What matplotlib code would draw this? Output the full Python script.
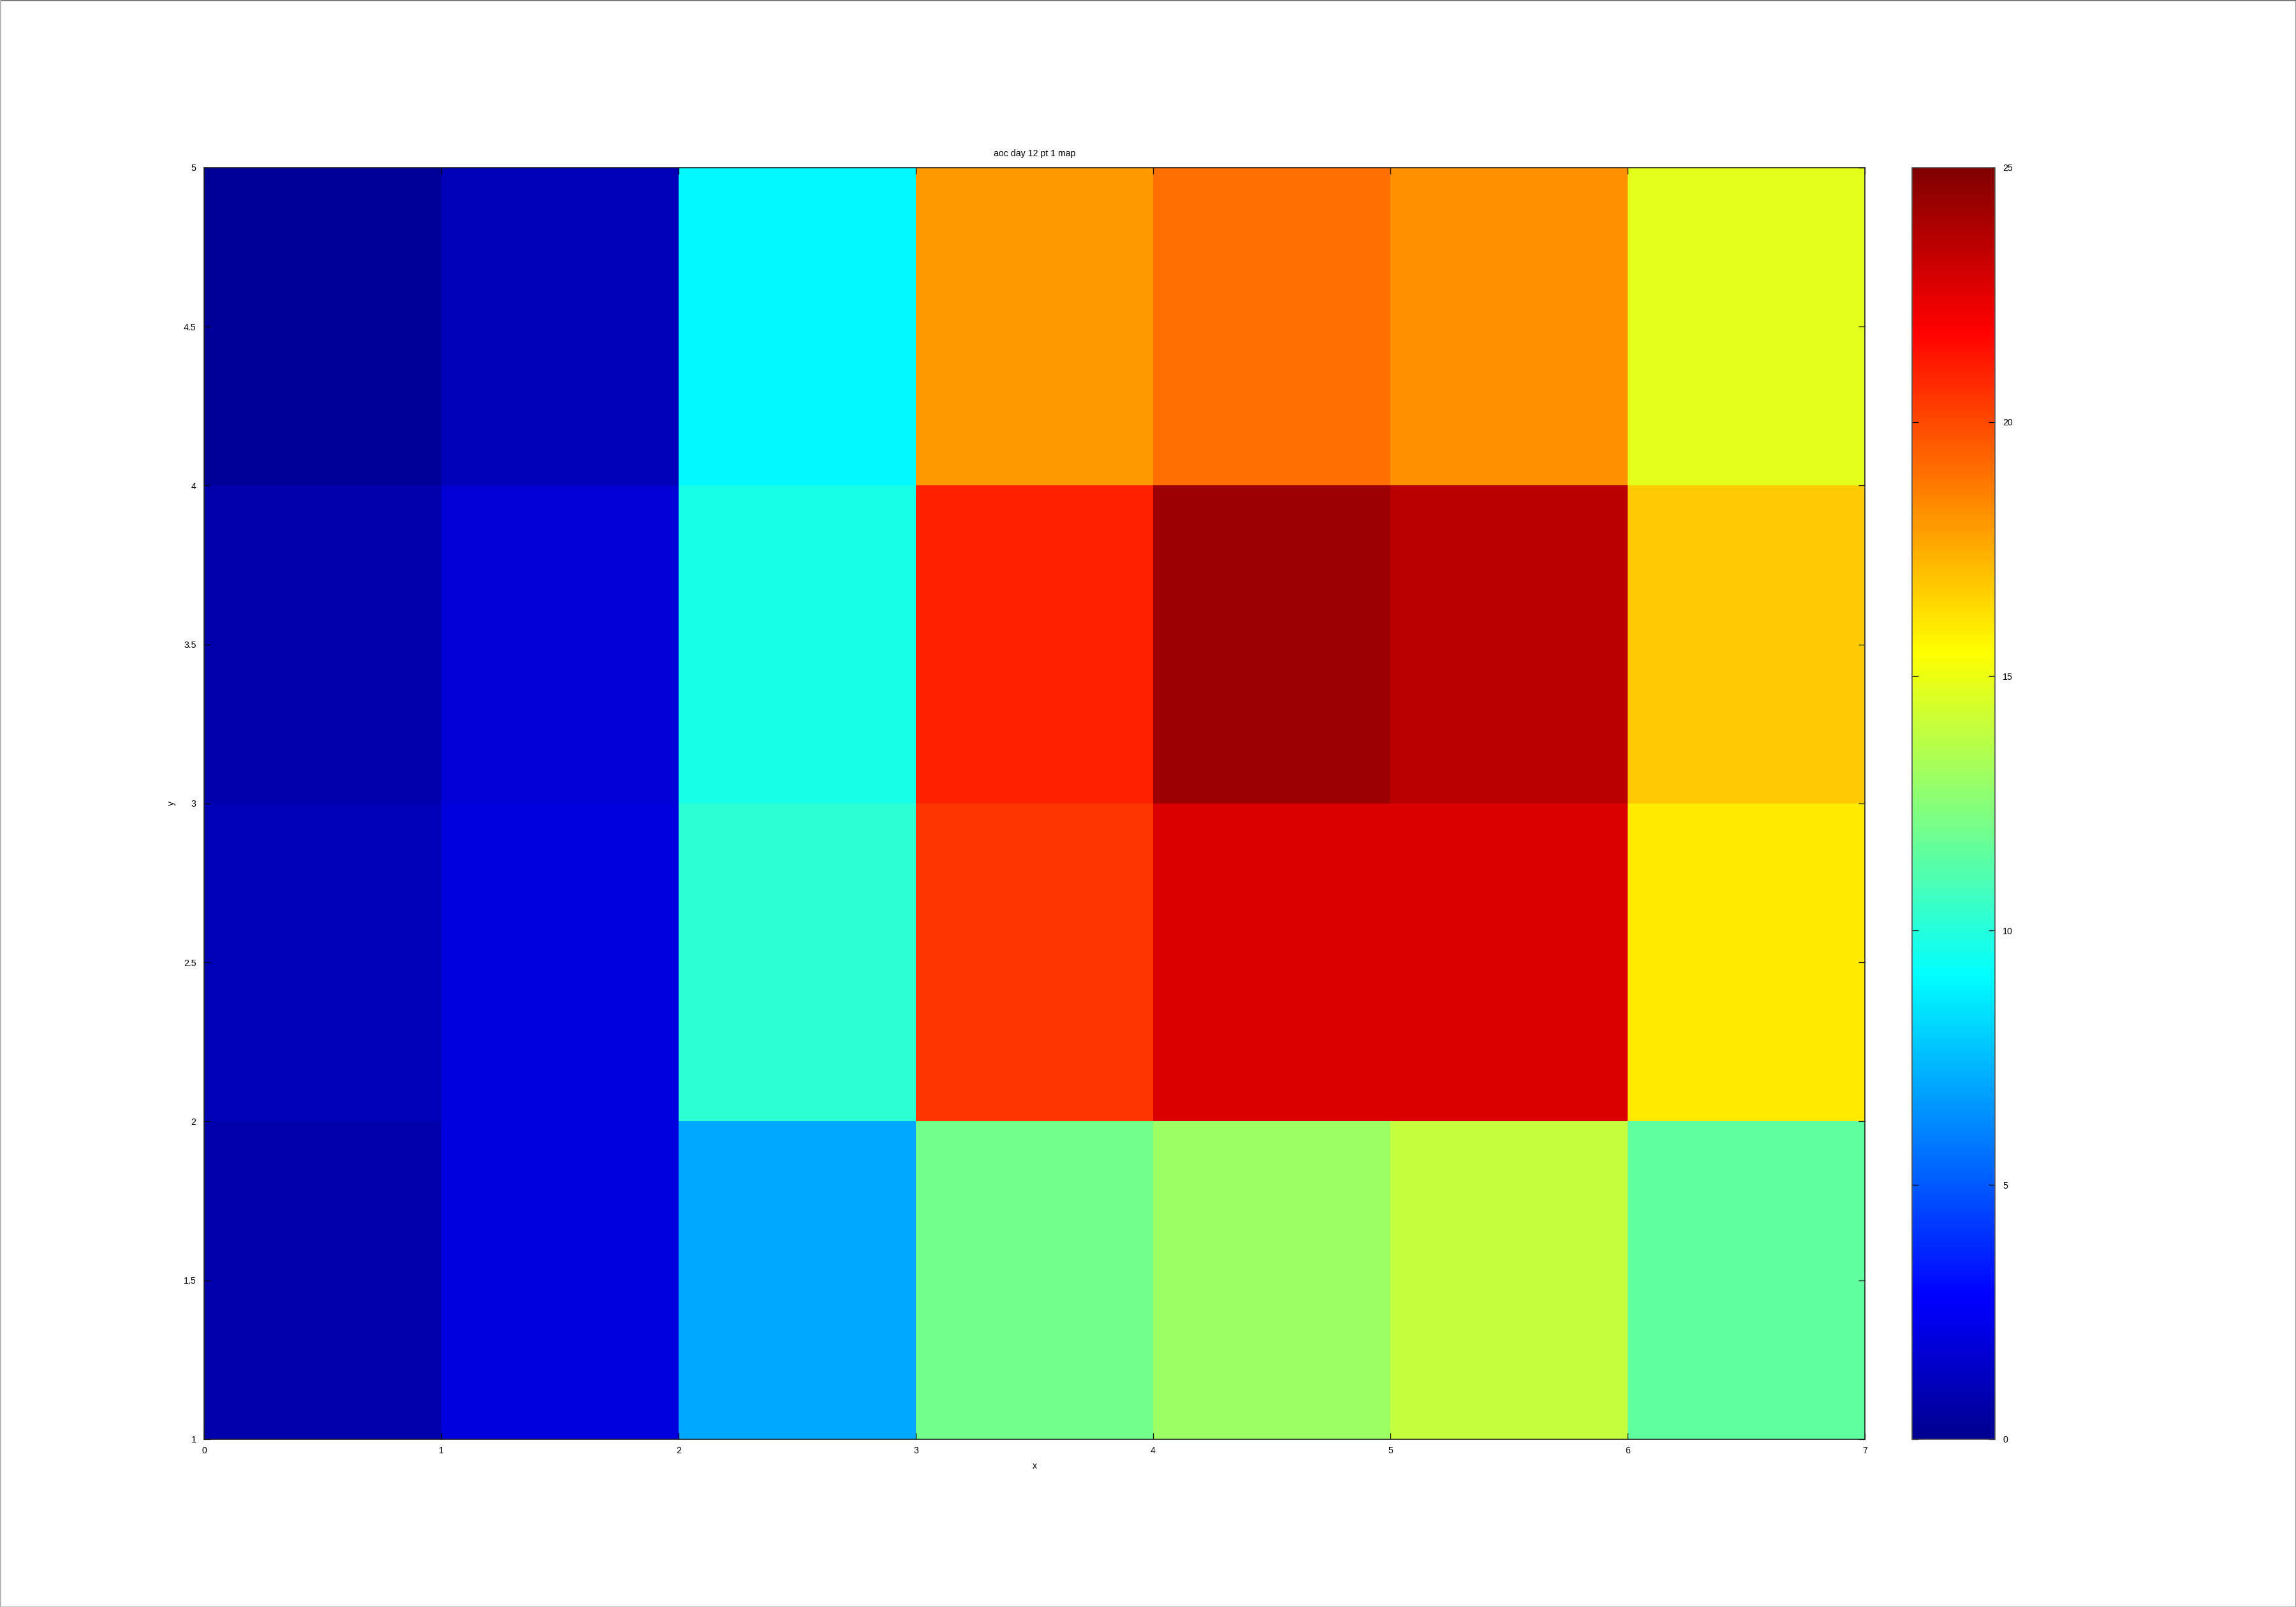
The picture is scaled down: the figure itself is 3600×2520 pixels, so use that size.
import numpy as np
import matplotlib
matplotlib.use('Agg')
import matplotlib.pyplot as plt
from matplotlib.lines import Line2D
from matplotlib.colors import LinearSegmentedColormap

plt.rcParams['font.family'] = ['Liberation Sans', 'DejaVu Sans']

# cell edges
x_edges = [0, 1, 2, 3, 4, 5, 6, 7]
y_edges = [1, 2, 3, 4, 5]

# cell values, bottom row (y 1-2) first
row_y1 = [0.75, 2.0, 7.0, 12.0, 13.0, 14.0, 11.5]
row_y2 = [1.0, 2.0, 10.25, 20.5, 22.75, 22.75, 16.0]
row_y3 = [0.75, 1.75, 9.75, 21.0, 24.25, 23.5, 16.75]
row_y4 = [0.25, 1.0, 9.0, 18.0, 19.0, 18.25, 14.75]

y_ticks = [1, 1.5, 2, 2.5, 3, 3.5, 4, 4.5, 5]
y_ticklabels = ['1', '1.5', '2', '2.5', '3', '3.5', '4', '4.5', '5']
cb_ticks = [0, 5, 10, 15, 20, 25]

vals = np.array([row_y1, row_y2, row_y3, row_y4])

# octave style jet (64 steps, interpolated)
octave_jet = LinearSegmentedColormap('octave_jet', {
    'red':   [(0, 0, 0), (23/63, 0, 0), (39/63, 1, 1), (55/63, 1, 1), (1, 0.5, 0.5)],
    'green': [(0, 0, 0), (7/63, 0, 0), (23/63, 1, 1), (39/63, 1, 1), (55/63, 0, 0), (1, 0, 0)],
    'blue':  [(0, 0.5625, 0.5625), (7/63, 1, 1), (23/63, 1, 1), (39/63, 0, 0), (1, 0, 0)],
}, N=512)

fig = plt.figure(figsize=(12, 8.4), dpi=300)
ax = fig.add_axes([0.0889, 0.1044, 0.7233, 0.7913])
cax = fig.add_axes([0.8328, 0.1044, 0.0361, 0.7913])

mesh = ax.pcolormesh(x_edges, y_edges, vals, cmap=octave_jet, vmin=0, vmax=25)
ax.set_xlim(0, 7)
ax.set_ylim(1, 5)
ax.set_xticks(x_edges)
ax.set_yticks(y_ticks)
ax.set_yticklabels(y_ticklabels)
ax.tick_params(direction='in', length=2.4, width=0.3, labelsize=3.4,
               top=True, right=True, pad=3.0)
ax.tick_params(axis='x', pad=2.6)
for s in ax.spines.values():
    s.set_linewidth(0.4)
    s.set_color('#222222')

ax.set_title('aoc day 12 pt 1 map', fontsize=3.4, pad=4.2)
ax.set_xlabel('x', fontsize=3.4)
ax.set_ylabel('y', fontsize=3.4)
ax.xaxis.set_label_coords(0.5, -0.0176)
ax.yaxis.set_label_coords(-0.017, 0.5)

cb = fig.colorbar(mesh, cax=cax, ticks=cb_ticks)
cb.outline.set_linewidth(0.4)
cb.outline.set_edgecolor('#555555')
cax.tick_params(direction='in', length=2.4, width=0.3, labelsize=3.4,
                left=True, right=True, pad=2.9)

# thin frame round the whole picture
fig.add_artist(Line2D([0, 1], [1, 1], transform=fig.transFigure, color='#707070', lw=0.6))
fig.add_artist(Line2D([1, 1], [0, 1], transform=fig.transFigure, color='#707070', lw=0.6))
fig.add_artist(Line2D([0, 0], [0, 1], transform=fig.transFigure, color='#b0b0b0', lw=0.6))
fig.add_artist(Line2D([0, 1], [0, 0], transform=fig.transFigure, color='#b0b0b0', lw=0.6))

fig.savefig('out.png', dpi=300)
